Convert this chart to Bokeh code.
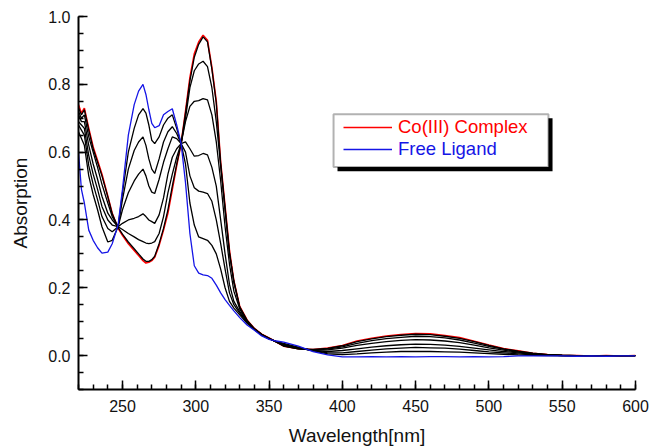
from bokeh.plotting import figure
from bokeh.models import Range1d, FixedTicker, PrintfTickFormatter, Legend, LegendItem, BoxAnnotation
from bokeh.embed import file_html
from bokeh.resources import INLINE

# ---------------- data ----------------
wavelength = [220, 222, 224, 227, 230, 233, 236, 240, 243, 247,
              250, 254, 258, 261, 264, 266, 268, 270, 272, 275, 278,
              281, 284, 287, 290, 293, 296, 299, 302, 305, 308,
              311, 314, 317, 320, 323, 326, 330, 335, 340, 345,
              350, 355, 360, 370, 380, 390, 400,
              410, 420, 430, 440, 450, 460, 470, 480, 490, 500,
              510, 520, 530, 540, 550, 560, 570, 580, 590, 600]

free_ligand = [0.60, 0.49, 0.45, 0.37, 0.34, 0.318, 0.302, 0.305, 0.33, 0.385,
               0.49, 0.65, 0.74, 0.78, 0.80, 0.77, 0.725, 0.685, 0.672, 0.678, 0.71,
               0.72, 0.728, 0.68, 0.625, 0.51, 0.36, 0.265, 0.243, 0.238, 0.236,
               0.228, 0.208, 0.185, 0.165, 0.148, 0.132, 0.112, 0.09, 0.075, 0.058,
               0.048, 0.043, 0.040, 0.028, 0.012, 0.002, -0.004,
               -0.004, -0.003, -0.004, -0.003, -0.004, -0.003, -0.003, -0.004, -0.003, -0.004,
               -0.003, -0.001, -0.001, -0.001, -0.001, -0.002, -0.001, -0.002, -0.001, -0.001]

complex_co = [0.74, 0.715, 0.73, 0.67, 0.615, 0.575, 0.535, 0.47, 0.42, 0.375,
              0.355, 0.33, 0.31, 0.295, 0.28, 0.273, 0.275, 0.28, 0.29, 0.325, 0.37,
              0.42, 0.49, 0.56, 0.625, 0.72, 0.82, 0.89, 0.925, 0.945, 0.93,
              0.85, 0.75, 0.57, 0.44, 0.31, 0.22, 0.145, 0.105, 0.08, 0.063,
              0.052, 0.04, 0.028, 0.02, 0.018, 0.022, 0.03,
              0.043, 0.051, 0.058, 0.062, 0.065, 0.064, 0.059, 0.053, 0.042, 0.031,
              0.021, 0.014, 0.007, 0.003, 0.001, 0.0, -0.001, 0.0, -0.001, 0.0]

titration_1 = [0.66, 0.64, 0.62, 0.53, 0.475, 0.43, 0.38, 0.335, 0.34, 0.38,
               0.48, 0.60, 0.67, 0.71, 0.728, 0.715, 0.68, 0.635, 0.625, 0.645, 0.68,
               0.70, 0.71, 0.67, 0.625, 0.565, 0.45, 0.385, 0.35, 0.345, 0.34,
               0.325, 0.30, 0.255, 0.20, 0.16, 0.14, 0.12, 0.095, 0.076, 0.06,
               0.049, 0.042, 0.036, 0.025, 0.014, 0.005, 0.003,
               0.005, 0.008, 0.01, 0.012, 0.012, 0.012, 0.011, 0.01, 0.008, 0.006,
               0.004, 0.002, 0.001, 0.0, 0.0, 0.0, 0.0, 0.0, 0.0, 0.0]

titration_2 = [0.68, 0.665, 0.65, 0.56, 0.505, 0.46, 0.41, 0.375, 0.365, 0.38,
               0.46, 0.55, 0.605, 0.63, 0.645, 0.62, 0.58, 0.55, 0.537, 0.58, 0.63,
               0.66, 0.675, 0.655, 0.625, 0.60, 0.53, 0.495, 0.485, 0.482, 0.478,
               0.455, 0.40, 0.33, 0.255, 0.185, 0.15, 0.125, 0.097, 0.077, 0.061,
               0.05, 0.041, 0.034, 0.023, 0.015, 0.008, 0.008,
               0.012, 0.016, 0.02, 0.022, 0.024, 0.023, 0.022, 0.019, 0.015, 0.011,
               0.008, 0.005, 0.002, 0.001, 0.0, 0.0, 0.0, 0.0, 0.0, 0.0]

titration_3 = [0.69, 0.68, 0.67, 0.59, 0.535, 0.49, 0.44, 0.40, 0.385, 0.38,
               0.43, 0.48, 0.515, 0.535, 0.55, 0.53, 0.50, 0.482, 0.478, 0.52, 0.57,
               0.61, 0.645, 0.64, 0.625, 0.63, 0.61, 0.588, 0.59, 0.596, 0.592,
               0.555, 0.50, 0.40, 0.30, 0.21, 0.16, 0.13, 0.10, 0.078, 0.062,
               0.05, 0.04, 0.032, 0.022, 0.015, 0.012, 0.015,
               0.02, 0.025, 0.029, 0.032, 0.034, 0.033, 0.031, 0.027, 0.022, 0.017,
               0.012, 0.008, 0.004, 0.002, 0.0, 0.0, 0.0, 0.0, 0.0, 0.0]

titration_4 = [0.71, 0.69, 0.69, 0.62, 0.565, 0.52, 0.47, 0.42, 0.40, 0.38,
               0.39, 0.40, 0.405, 0.41, 0.418, 0.41, 0.40, 0.395, 0.39, 0.415, 0.465,
               0.535, 0.585, 0.61, 0.625, 0.69, 0.735, 0.75, 0.752, 0.758, 0.754,
               0.71, 0.63, 0.515, 0.38, 0.27, 0.19, 0.137, 0.101, 0.078, 0.062,
               0.051, 0.04, 0.03, 0.021, 0.016, 0.017, 0.022,
               0.03, 0.036, 0.041, 0.045, 0.047, 0.046, 0.043, 0.038, 0.031, 0.023,
               0.016, 0.01, 0.005, 0.002, 0.0, 0.0, 0.0, 0.0, 0.0, 0.0]

titration_5 = [0.72, 0.70, 0.71, 0.645, 0.60, 0.555, 0.505, 0.45, 0.41, 0.38,
               0.372, 0.36, 0.35, 0.342, 0.336, 0.332, 0.33, 0.332, 0.336, 0.36, 0.41,
               0.48, 0.535, 0.585, 0.625, 0.70, 0.79, 0.84, 0.86, 0.868, 0.852,
               0.79, 0.69, 0.56, 0.43, 0.30, 0.22, 0.142, 0.103, 0.079, 0.062,
               0.051, 0.04, 0.029, 0.02, 0.017, 0.019, 0.026,
               0.036, 0.044, 0.05, 0.054, 0.057, 0.056, 0.052, 0.046, 0.037, 0.027,
               0.019, 0.012, 0.006, 0.003, 0.001, 0.0, 0.0, 0.0, 0.0, 0.0]

titration_6 = [0.73, 0.71, 0.725, 0.665, 0.61, 0.57, 0.53, 0.468, 0.418, 0.378,
               0.358, 0.335, 0.315, 0.30, 0.285, 0.278, 0.278, 0.283, 0.293, 0.33, 0.375,
               0.43, 0.50, 0.565, 0.625, 0.715, 0.81, 0.88, 0.918, 0.94, 0.925,
               0.845, 0.745, 0.565, 0.435, 0.305, 0.215, 0.143, 0.104, 0.079, 0.062,
               0.051, 0.04, 0.028, 0.02, 0.018, 0.021, 0.029,
               0.041, 0.049, 0.056, 0.06, 0.063, 0.062, 0.057, 0.051, 0.041, 0.03,
               0.02, 0.013, 0.007, 0.003, 0.001, 0.0, 0.0, 0.0, 0.0, 0.0]

titrations = [titration_1, titration_2, titration_3, titration_4, titration_5, titration_6]

x_major = [250, 300, 350, 400, 450, 500, 550, 600]
x_minor = list(range(220, 601, 10))
y_major = [0.0, 0.2, 0.4, 0.6, 0.8, 1.0]
y_minor = [round(-0.1 + 0.05 * i, 2) for i in range(23)]

FONT = "Liberation Sans"

p = figure(width=652, height=448, output_backend="svg", toolbar_location=None,
           x_range=Range1d(220, 600), y_range=Range1d(-0.1, 1.0),
           min_border_left=78, min_border_right=17, min_border_top=16, min_border_bottom=58)
p.outline_line_color = None
p.grid.visible = False
p.background_fill_color = "white"

r_red = p.line(wavelength, complex_co, line_color="#ff0000", line_width=1.6)
for t in titrations:
    p.line(wavelength, t, line_color="black", line_width=1.3)
r_blue = p.line(wavelength, free_ligand, line_color="#1515e6", line_width=1.3)

for ax in (p.xaxis[0], p.yaxis[0]):
    ax.axis_line_width = 2
    ax.axis_line_color = "black"
    ax.major_tick_line_color = "black"
    ax.minor_tick_line_color = "black"
    ax.major_tick_line_width = 1.5
    ax.minor_tick_line_width = 1.5
    ax.major_tick_in = 9
    ax.major_tick_out = 0
    ax.minor_tick_in = 5
    ax.minor_tick_out = 0
    ax.major_label_text_font = FONT
    ax.major_label_text_font_size = "16px"
    ax.major_label_text_color = "#111111"
    ax.axis_label_text_font = FONT
    ax.axis_label_text_font_size = "19px"
    ax.axis_label_text_font_style = "normal"
    ax.axis_label_text_color = "#111111"

p.xaxis.ticker = FixedTicker(ticks=x_major, minor_ticks=x_minor)
p.yaxis.ticker = FixedTicker(ticks=y_major, minor_ticks=y_minor)
p.yaxis.formatter = PrintfTickFormatter(format="%.1f")
p.xaxis.axis_label = "Wavelength[nm]"
p.yaxis.axis_label = "Absorption"
p.xaxis.major_label_standoff = 10
p.xaxis.axis_label_standoff = 10
p.yaxis.major_label_standoff = 8
p.yaxis.axis_label_standoff = 14

# legend box with drop shadow
shadow = BoxAnnotation(left=396.7, right=543.4, bottom=0.544, top=0.700,
                       fill_color="black", fill_alpha=1.0, line_color=None)
box = BoxAnnotation(left=394.0, right=540.6, bottom=0.556, top=0.712,
                    fill_color="white", fill_alpha=1.0, line_color="black", line_width=2)
p.add_layout(shadow)
p.add_layout(box)

def make_legend(label, renderer, color, loc):
    lg = Legend(items=[LegendItem(label=label, renderers=[renderer])], location=loc,
                background_fill_alpha=0, border_line_color=None, padding=0, margin=0,
                spacing=0, glyph_width=49, glyph_height=18, label_height=18,
                label_standoff=6, label_text_font=FONT, label_text_font_size="18.5px",
                label_text_color=color)
    return lg

p.add_layout(make_legend("Co(III) Complex", r_red, "#ff0000", (265, 251)))
p.add_layout(make_legend("Free Ligand", r_blue, "#1515e6", (265, 229)))

open("out.html", "w").write(file_html(p, INLINE))
